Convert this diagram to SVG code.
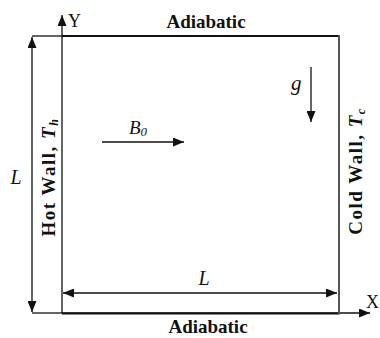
<svg xmlns="http://www.w3.org/2000/svg" width="380" height="338" viewBox="0 0 380 338">
<style>
.ln{stroke:#111;stroke-width:1.3;fill:none}
.wall{stroke:#111;stroke-width:2.2;fill:none}
text{font-family:'Liberation Serif','Times New Roman',Times,serif;fill:#111}
.b{font-weight:bold}
.i{font-style:italic}
</style>
<defs>
<marker id="ah" viewBox="0 0 11 9" refX="11" refY="4.5" markerWidth="11" markerHeight="9" markerUnits="userSpaceOnUse" orient="auto-start-reverse">
<path d="M0,0 L11,4.5 L0,9 Z" fill="#111"/>
</marker>
</defs>
<rect width="380" height="338" fill="#fff"/>
<g id="connectors">
<line class="ln" x1="32" y1="36" x2="62" y2="36"/>
<line class="ln" x1="32" y1="313" x2="62" y2="313"/>
<line class="ln" x1="32" y1="37" x2="32" y2="312" marker-start="url(#ah)" marker-end="url(#ah)"/>
<line class="ln" x1="63" y1="293" x2="337" y2="293" marker-start="url(#ah)" marker-end="url(#ah)"/>
<line class="ln" x1="62" y1="313" x2="62" y2="15" marker-end="url(#ah)"/>
<line class="ln" x1="62" y1="313" x2="370" y2="313" marker-end="url(#ah)"/>
<line class="ln" x1="102" y1="142" x2="184" y2="142" marker-end="url(#ah)"/>
<line class="ln" x1="311" y1="67" x2="311" y2="122" marker-end="url(#ah)"/>
</g>
<g id="cavity">
<line class="wall" x1="62" y1="36" x2="340" y2="36"/>
<line class="wall" x1="62" y1="313.5" x2="340" y2="313.5"/>
<line x1="339" y1="35" x2="339" y2="314" stroke="#555" stroke-width="2"/>
</g>
<g id="top-label"><text class="b" x="206" y="28" font-size="19" text-anchor="middle">Adiabatic</text></g>
<g id="bottom-label"><text class="b" x="208" y="333" font-size="19" text-anchor="middle">Adiabatic</text></g>
<g id="hot-wall"><text class="b" transform="translate(55,177) rotate(-90)" font-size="19" letter-spacing="1.5" text-anchor="middle">Hot Wall, <tspan class="i">T</tspan><tspan class="i" font-size="12" dy="3">h</tspan></text></g>
<g id="cold-wall"><text class="b" transform="translate(362,171) rotate(-90)" font-size="19" letter-spacing="1.5" text-anchor="middle">Cold Wall, <tspan class="i">T</tspan><tspan class="i" font-size="12" dy="3">c</tspan></text></g>
<g id="y-axis"><text x="68" y="27" font-size="18">Y</text></g>
<g id="x-axis"><text x="366" y="308" font-size="18">X</text></g>
<g id="len-v"><text class="i" x="16" y="184" font-size="20" text-anchor="middle">L</text></g>
<g id="len-h"><text class="i" x="204" y="285" font-size="20" text-anchor="middle">L</text></g>
<g id="b0"><text class="i" x="129" y="134" font-size="19">B<tspan font-size="13" dy="2">0</tspan></text></g>
<g id="gravity"><text class="i" x="291" y="90" font-size="21">g</text></g>
</svg>
